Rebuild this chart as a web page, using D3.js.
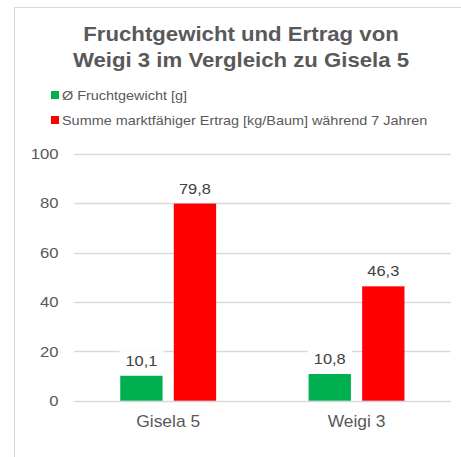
<!DOCTYPE html>
<html><head><meta charset="utf-8">
<script src="https://cdn.jsdelivr.net/npm/d3@7"></script>
<style>body{margin:0;background:#fff;} svg{display:block;font-family:"Liberation Sans",Arial,sans-serif;}</style>
</head><body>
<script>
const categories = ["Gisela 5", "Weigi 3"];
const seriesNames = ["Ø Fruchtgewicht [g]", "Summe marktfähiger Ertrag [kg/Baum] während 7 Jahren"];
const fruchtgewicht = [10.1, 10.8];
const ertrag = [79.8, 46.3];
const yTicks = [0, 20, 40, 60, 80, 100];
const colors = ["#00b050", "#ff0000"];
const titleLines = ["Fruchtgewicht und Ertrag von", "Weigi 3 im Vergleich zu Gisela 5"];

const W = 461, H = 457;
const SX = 1.11; // horizontal stretch of text
const svg = d3.select("body").append("svg").attr("width", W).attr("height", H);

// frame
svg.append("rect").attr("x", 14.5).attr("y", 7.5).attr("width", 470).attr("height", 470)
  .attr("fill", "#fff").attr("stroke", "#d9d9d9").attr("stroke-width", 1);

// title
svg.append("g").selectAll("text").data(titleLines).join("text")
  .attr("transform", (d, i) => `translate(241,${41 + i * 26}) scale(${SX},1)`)
  .attr("text-anchor", "middle").attr("font-size", 20).attr("font-weight", "bold")
  .attr("fill", "#595959").text(d => d);

// legend
const leg = svg.append("g").selectAll("g").data(seriesNames).join("g")
  .attr("transform", (d, i) => `translate(51,${91 + i * 25})`);
leg.append("rect").attr("width", 8).attr("height", 8).attr("fill", (d, i) => colors[i]);
leg.append("text").attr("transform", `translate(11,9) scale(${SX},1)`)
  .attr("font-size", 13).attr("fill", "#595959").text(d => d);

// scales
const y = d3.scaleLinear().domain([0, 100]).range([400.7, 153.7]);
const x0 = d3.scaleBand().domain(categories).range([74, 450.7]).padding(0);
const x1 = d3.scaleBand().domain([0, 1]).range([0, 95.9]).paddingInner(0.21);

// gridlines
svg.append("g").selectAll("line").data(yTicks).join("line")
  .attr("x1", 74).attr("x2", 450.7)
  .attr("y1", d => Math.round(y(d)) + 0.5).attr("y2", d => Math.round(y(d)) + 0.5)
  .attr("stroke", "#d9d9d9").attr("stroke-width", 1.3);

// y axis labels
const yAxis = d3.axisLeft(y).tickValues(yTicks).tickSize(0).tickPadding(0).tickFormat(d3.format("d"));
const ga = svg.append("g").attr("transform", "translate(58.5,0)").call(yAxis);
ga.select(".domain").remove();
ga.selectAll("text").attr("font-size", 15).attr("fill", "#595959")
  .attr("font-family", "Liberation Sans, Arial, sans-serif")
  .attr("transform", `scale(${SX},1)`);

// bars
const rows = categories.map((c, i) => ({ cat: c, vals: [fruchtgewicht[i], ertrag[i]] }));
const fmt = v => d3.format(".1f")(v).replace(".", ",");
const groups = svg.append("g").selectAll("g").data(rows).join("g")
  .attr("transform", d => `translate(${x0(d.cat) + x0.bandwidth() / 2 - 95.9 / 2},0)`);
const bars = groups.selectAll("g").data(d => d.vals.map((v, k) => ({ v, k }))).join("g");
bars.append("rect")
  .attr("x", d => x1(d.k)).attr("width", x1.bandwidth())
  .attr("y", d => y(d.v)).attr("height", d => y(0) - y(d.v))
  .attr("fill", d => colors[d.k]);
// label backgrounds
bars.append("rect")
  .attr("x", d => x1(d.k) + x1.bandwidth() / 2 - 22).attr("width", 44)
  .attr("y", d => y(d.v) - 25).attr("height", 19).attr("fill", "#fff");
bars.append("text")
  .attr("transform", d => `translate(${x1(d.k) + x1.bandwidth() / 2},${y(d.v) - 10}) scale(${SX},1)`)
  .attr("text-anchor", "middle").attr("font-size", 14.8).attr("fill", "#404040")
  .text(d => fmt(d.v));

// category labels
svg.append("g").selectAll("text").data(categories).join("text")
  .attr("transform", d => `translate(${x0(d) + x0.bandwidth() / 2},427) scale(${SX},1)`)
  .attr("text-anchor", "middle").attr("font-size", 15.7).attr("fill", "#595959").text(d => d);
</script>
</body></html>
